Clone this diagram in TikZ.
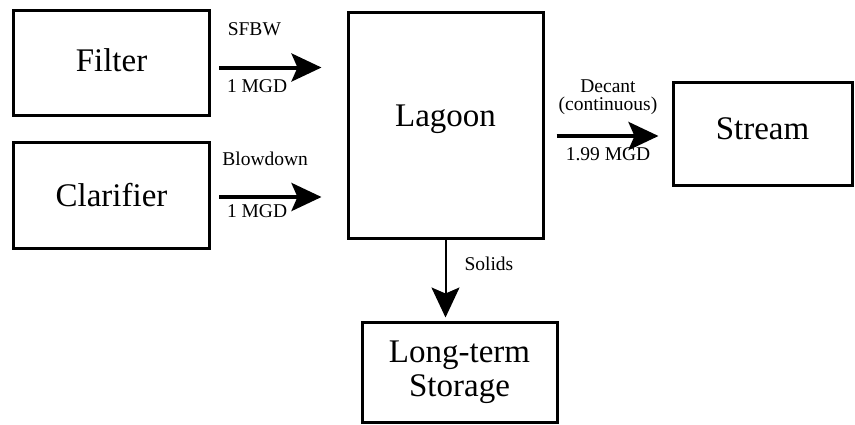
\documentclass[tikz,border=0pt]{standalone}
\usepackage{fontspec}
\setmainfont{Liberation Serif}
\usetikzlibrary{arrows.meta}

\newcommand*{\boxFont}{\fontsize{33}{34}\selectfont}
\newcommand*{\lblFont}{\fontsize{19.5}{18}\selectfont}

\tikzset{
	unit/.style={draw, line width=3pt, align=center, font=\boxFont, inner sep=0pt},
	flow/.style={line width=4pt, -{Stealth[length=30pt, width=28pt, inset=6pt]}},
	lbl/.style={font=\lblFont, inner sep=2pt}
}

\begin{document}
\begin{tikzpicture}[x=1pt, y=-1pt]
	\useasboundingbox (0,0) rectangle (855,424);
	
	\node[unit, minimum width=196pt, minimum height=105pt, text depth=4pt] (filter) at (111.5,62.5) {Filter};
	\node[unit, minimum width=196pt, minimum height=106pt] (clarifier) at (111.5,195) {Clarifier};
	\node[unit, minimum width=195pt, minimum height=226pt, text depth=19pt] (lagoon) at (445.5,125) {Lagoon};
	\node[unit, minimum width=179pt, minimum height=103pt, text depth=10pt] (stream) at (762.5,133.5) {Stream};
	\node[unit, minimum width=195pt, minimum height=100pt] (storage) at (459.5,372) {Long-term\\Storage};
	
	% inflows
	\draw[flow, shorten <=8pt, shorten >=25pt] ([yshift=-5pt]filter.east) -- ([yshift=-5pt]filter.east -| lagoon.west)
		node[lbl, pos=.32, above=28pt] {SFBW} node[lbl, pos=.34, below=8pt] {1 MGD};
	\draw[flow, shorten <=8pt, shorten >=25pt] ([yshift=-2pt]clarifier.east) -- ([yshift=-2pt]clarifier.east -| lagoon.west)
		node[lbl, pos=.4, above=27pt] {Blowdown} node[lbl, pos=.34, below=4pt] {1 MGD};
	
	% outflows
	\draw[flow, shorten <=12pt, shorten >=13pt] ([yshift=-2.5pt]lagoon.east |- stream.west) -- ([yshift=-2.5pt]stream.west)
		node[lbl, midway, above=17pt, align=center] {Decant\\(continuous)} node[lbl, midway, below=8pt] {1.99 MGD};
	\draw[flow, line width=2pt, shorten >=3pt] (lagoon.south) -- (lagoon.south |- storage.north)
		node[lbl, pos=.3, right=16pt] {Solids};
\end{tikzpicture}
\end{document}
